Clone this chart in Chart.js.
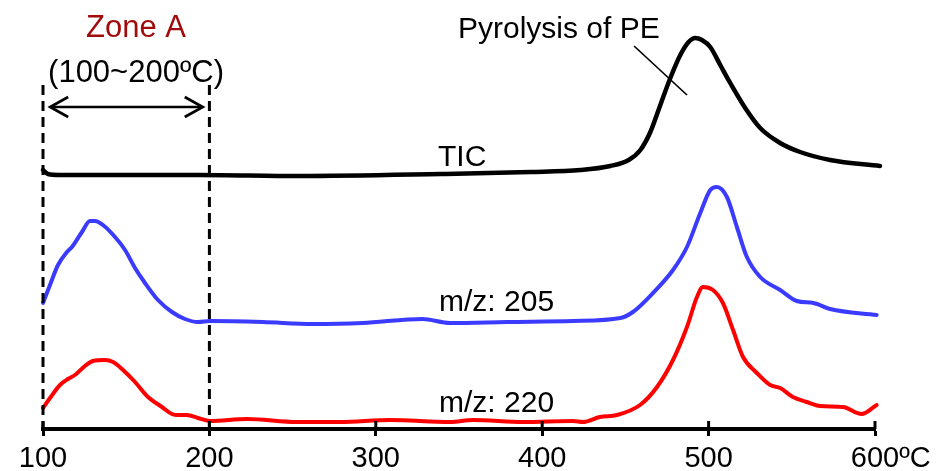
<!DOCTYPE html>
<html>
<head>
<meta charset="utf-8">
<script src="https://cdn.jsdelivr.net/npm/chart.js@4.4.1/dist/chart.umd.min.js"></script>
<style>
html,body{margin:0;padding:0;background:#fff;}
#wrap{width:941px;height:471px;}
</style>
</head>
<body>
<div id="wrap"><canvas id="c" width="941" height="471"></canvas></div>
<script>
// Temperature (ºC) and relative intensity (arbitrary units, 0 at the axis)
const ticT = [100,103,110,194,254,339,393,423,441,452,459,465,471,477,483,488,492,496,501,507,513,522,531,543,555,573,603];
const ticI = [259,255,254,254,253,255,257,259,263,269,279,297,324,351,374,387,391,389,382,364,346,321,301,286,277,269,263];

const mz205T = [100,104.2,109,114.4,117.4,123.4,128.2,131.2,136,143.3,149.3,155.3,161.3,169.1,177.5,185.3,193.1,200.4,232,262,292,328,344.6,379,418.5,447,454.5,466.6,478.6,487,495,501,505,511,517,523,531,543,553,563,573,601];
const mz205I = [126,144,164,177,182,197,208,208,204,192,179,161,146,129,117,110,107,108,107,105,106,110,106,107,108,111,117,136,159,182,216,239,242,232,202,172,152,139,128,126,120,114];

const mz220T = [100,104.2,110.2,115,119.2,125.2,130,137.3,142.1,148.1,155.3,163.1,171.5,177.5,181.1,186.5,193.1,200.4,222.6,252.6,278.5,308.5,344.6,358.4,388.5,418.5,424.5,434.7,445,458.8,469,478.6,487,493,496.6,502.6,508.6,514.7,520.7,529,537,543,550.7,559,567,580.8,592,601];
const mz220I = [21,31,44,50,54,63,68,69,67,59,47,32,22,15,14,14,11,8,10,7,7,9,7,9,7,8,7,12,14,24,42,69,102,132,142,139,126,99,72,56,44,41,32,27,23,22,15,24];

const xTicks = [100,200,300,400,500,600];
const xUnit = 'ºC';

const toXY = (t, v) => t.map((x, i) => ({x: x, y: v[i]}));

const FONT = '"Liberation Sans", Arial, Helvetica, sans-serif';
const TICK_SIZE = 29, TICK_LEN = 7, TICK_PAD = 6;

const annot = {
  zoneLo: 100, zoneHi: 200, zoneTop: 344,
  arrowY: 322, arrowFrom: 104.3, arrowTo: 196,
  zoneTitle: {text:'Zone A', x:155.9, y:392},
  zoneRange: {text:'(100~200ºC)', x:155.9, y:347},
  pyro: {text:'Pyrolysis of PE', x:349.4, y:391},
  leader: {x1:455.2, y1:383, x2:487, y2:334},
  tic: {text:'TIC', x:337.4, y:263},
  m205: {text:'m/z: 205', x:338, y:118},
  m220: {text:'m/z: 220', x:338, y:17}
};

const deco = {
  id: 'deco',
  afterDraw(chart) {
    const ctx = chart.ctx, xs = chart.scales.x, ys = chart.scales.y;
    const X = v => xs.getPixelForValue(v), Y = v => ys.getPixelForValue(v);
    ctx.save();
    // upper half of tick marks (crossing the axis)
    ctx.strokeStyle = '#000'; ctx.lineWidth = 3;
    xTicks.forEach(t => {
      ctx.beginPath(); ctx.moveTo(X(t), ys.bottom - 8); ctx.lineTo(X(t), ys.bottom); ctx.stroke();
    });
    // dashed zone boundaries
    ctx.setLineDash([10,6]); ctx.lineWidth = 3;
    [annot.zoneLo, annot.zoneHi].forEach(t => {
      ctx.beginPath(); ctx.moveTo(X(t), Y(annot.zoneTop)); ctx.lineTo(X(t), ys.bottom); ctx.stroke();
    });
    ctx.setLineDash([]);
    // double arrow
    const ay = Y(annot.arrowY), a1 = X(annot.arrowFrom), a2 = X(annot.arrowTo);
    ctx.lineWidth = 2.7; ctx.lineCap = 'butt';
    ctx.beginPath(); ctx.moveTo(a1, ay); ctx.lineTo(a2, ay); ctx.stroke();
    ctx.beginPath(); ctx.moveTo(a1+18, ay-10); ctx.lineTo(a1, ay); ctx.lineTo(a1+18, ay+10); ctx.stroke();
    ctx.beginPath(); ctx.moveTo(a2-18, ay-10); ctx.lineTo(a2, ay); ctx.lineTo(a2-18, ay+10); ctx.stroke();
    // leader line
    ctx.lineWidth = 1.7;
    ctx.beginPath(); ctx.moveTo(X(annot.leader.x1), Y(annot.leader.y1)); ctx.lineTo(X(annot.leader.x2), Y(annot.leader.y2)); ctx.stroke();
    // texts
    ctx.textBaseline = 'alphabetic';
    ctx.font = '31px ' + FONT;
    ctx.textAlign = 'center';
    ctx.fillStyle = '#A00C0C';
    ctx.fillText(annot.zoneTitle.text, X(annot.zoneTitle.x), Y(annot.zoneTitle.y));
    ctx.fillStyle = '#000';
    ctx.fillText(annot.zoneRange.text, X(annot.zoneRange.x), Y(annot.zoneRange.y));
    ctx.textAlign = 'left';
    ctx.font = '30px ' + FONT;
    ctx.fillText(annot.pyro.text, X(annot.pyro.x), Y(annot.pyro.y));
    ctx.fillText(annot.tic.text, X(annot.tic.x), Y(annot.tic.y));
    ctx.fillText(annot.m205.text, X(annot.m205.x), Y(annot.m205.y));
    ctx.fillText(annot.m220.text, X(annot.m220.x), Y(annot.m220.y));
    // unit after last tick label, same baseline as Chart.js tick labels
    ctx.font = TICK_SIZE + 'px ' + FONT;
    ctx.textBaseline = 'middle';
    const last = xTicks[xTicks.length-1];
    const w = ctx.measureText(String(last)).width;
    ctx.fillText(xUnit, X(last) + w/2, xs.top + TICK_LEN + TICK_PAD + TICK_SIZE * 1.2 / 2);
    ctx.restore();
  }
};

new Chart(document.getElementById('c'), {
  type: 'line',
  data: {
    datasets: [
      {label:'TIC', data: toXY(ticT, ticI), borderColor:'#000', borderWidth:4.5},
      {label:'m/z: 205', data: toXY(mz205T, mz205I), borderColor:'#3B3BFF', borderWidth:4},
      {label:'m/z: 220', data: toXY(mz220T, mz220I), borderColor:'#FF0000', borderWidth:4}
    ].map(d => Object.assign(d, {pointRadius:0, fill:false, cubicInterpolationMode:'monotone', clip:false, borderCapStyle:'round', borderJoinStyle:'round'}))
  },
  options: {
    responsive: false,
    animation: false,
    devicePixelRatio: 1,
    layout: {padding: {left:43, right:66, top:0, bottom:0}},
    plugins: {legend:{display:false}, tooltip:{enabled:false}},
    scales: {
      x: {
        type: 'linear', min: 100, max: 600,
        afterBuildTicks: s => { s.ticks = xTicks.map(v => ({value: v})); },
        afterFit: s => { s.height = 42; },
        border: {display:true, width:4, color:'#000'},
        grid: {drawOnChartArea:false, drawTicks:true, tickLength:TICK_LEN, tickWidth:3, tickColor:'#000'},
        ticks: {color:'#000', font:{family:FONT, size:TICK_SIZE}, padding:TICK_PAD, maxRotation:0, autoSkip:false, callback: v => String(v)}
      },
      y: {
        type: 'linear', min: 0, max: 429, display: false
      }
    }
  },
  plugins: [deco]
});
</script>
</body>
</html>
